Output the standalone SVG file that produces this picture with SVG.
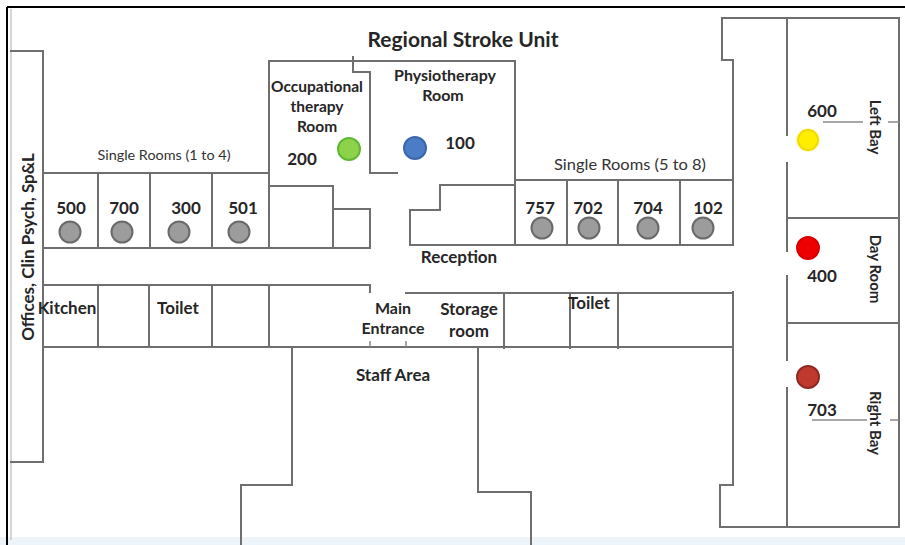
<svg xmlns="http://www.w3.org/2000/svg" width="905" height="545" viewBox="0 0 905 545">
<style>
.w{fill:none;stroke:#6f6f6f;stroke-width:2;stroke-linecap:square}
.f{fill:none;stroke:#000;stroke-width:2}
.t{font-family:Lato,"Liberation Sans",sans-serif;font-weight:700;font-size:17px;fill:#262626;text-anchor:middle}
.s{font-family:Lato,"Liberation Sans",sans-serif;font-weight:400;font-size:14px;fill:#333;text-anchor:middle}
.g{fill:#9c9c9c;stroke:#6a6a6a;stroke-width:2}
</style>
<rect x="0" y="0" width="905" height="545" fill="#fff"/>
<rect x="0" y="537" width="905" height="8" fill="#eef5fa"/>
<g id="frame">
<line class="f" x1="7" y1="7" x2="905" y2="7"/>
<line class="f" x1="7" y1="7" x2="7" y2="545"/>
<line x1="11" y1="9" x2="11" y2="540" stroke="#c9c9c9" stroke-width="1.5"/>
</g>
<g id="walls">
<path class="w" d="M11,51 H43 V462 H11"/>
<path class="w" d="M43,173 H269 M43,248 H370 M98,173 V248 M150,173 V248 M212,173 V248"/>
<path class="w" d="M269,186 H333 V248 M333,209 H370 V248"/>
<path class="w" d="M269,248 V61 H515 V245"/>
<path class="w" d="M353,57 V72 H370 V173 H397"/>
<path class="w" d="M410,245 V210 H440 V185 H515"/>
<path class="w" d="M410,245 H733"/>
<path class="w" d="M515,180 H733 M567,180 V245 M618,180 V245 M680,180 V245"/>
<path class="w" d="M722,18 V60 H733 V245"/>
<path class="w" d="M722,18 H899 V527 H720 V485 H733 V292"/>
<path class="w" d="M787,18 V135 M787,163 V251 M787,276 V360 M787,388 V527"/>
<path class="w" d="M787,218 H899 M787,323 H899"/>
<path d="M823,122 H863 M888,122 H899 M812,420 H867 M890,420 H899" fill="none" stroke="#8a8a8a" stroke-width="1.5"/>
<path class="w" d="M43,347 V285 H370 V292 M406,293 H733 M43,347 H733"/>
<path class="w" d="M98,285 V347 M149,285 V347 M212,285 V347 M269,285 V347 M504,293 V348 M570,293 V348 M618,293 V348"/>
<path d="M370,341 V347 M406,341 V347" fill="none" stroke="#8a8a8a" stroke-width="1.5"/>
<path class="w" d="M292,347 V485 H241 V545"/>
<path class="w" d="M478,348 V492 H531 V545"/>
</g>
<g id="labels">
<text class="t" x="463" y="47" style="font-size:21px">Regional Stroke Unit</text>
<text class="t" transform="translate(34,247) rotate(-90)">Offices, Clin Psych, Sp&amp;L</text>
<text class="s" x="164" y="160" textLength="133" lengthAdjust="spacingAndGlyphs">Single Rooms (1 to 4)</text>
<text class="s" x="630" y="170" textLength="152" lengthAdjust="spacingAndGlyphs" style="font-size:15px">Single Rooms (5 to 8)</text>
<text class="t" x="317" y="92" style="font-size:15.5px">Occupational</text>
<text class="t" x="317" y="112" style="font-size:15.5px">therapy</text>
<text class="t" x="317" y="132" style="font-size:15.5px">Room</text>
<text class="t" x="445" y="81" style="font-size:16px">Physiotherapy</text>
<text class="t" x="443" y="101" style="font-size:16px">Room</text>
<text class="t" x="302" y="165">200</text>
<text class="t" x="460" y="149">100</text>
<text class="t" x="71" y="214">500</text>
<text class="t" x="124" y="214">700</text>
<text class="t" x="186" y="214">300</text>
<text class="t" x="243" y="214">501</text>
<text class="t" x="540" y="214">757</text>
<text class="t" x="588" y="214">702</text>
<text class="t" x="648" y="214">704</text>
<text class="t" x="708" y="214">102</text>
<text class="t" x="459" y="263">Reception</text>
<text class="t" x="67" y="314">Kitchen</text>
<text class="t" x="178" y="314">Toilet</text>
<text class="t" x="393" y="314" style="font-size:16px">Main</text>
<text class="t" x="393" y="334" style="font-size:16px">Entrance</text>
<text class="t" x="469" y="315">Storage</text>
<text class="t" x="469" y="337">room</text>
<text class="t" x="589" y="309">Toilet</text>
<text class="t" x="393" y="381">Staff Area</text>
<text class="t" x="822" y="117">600</text>
<text class="t" x="822" y="282">400</text>
<text class="t" x="822" y="416">703</text>
<text class="t" transform="translate(870,127) rotate(90)" style="font-size:15px">Left Bay</text>
<text class="t" transform="translate(870,269) rotate(90)" style="font-size:15px">Day Room</text>
<text class="t" transform="translate(870,423) rotate(90)" style="font-size:15px">Right Bay</text>
</g>
<g id="markers">
<circle class="g" cx="70" cy="232" r="10.5"/>
<circle class="g" cx="122" cy="232" r="10.5"/>
<circle class="g" cx="179" cy="232" r="10.5"/>
<circle class="g" cx="239" cy="232" r="10.5"/>
<circle class="g" cx="542" cy="228" r="10.5"/>
<circle class="g" cx="589" cy="228" r="10.5"/>
<circle class="g" cx="648" cy="228" r="10.5"/>
<circle class="g" cx="703" cy="228" r="10.5"/>
<circle cx="349" cy="149" r="11" fill="#8cd24a" stroke="#5fb832" stroke-width="2"/>
<circle cx="415" cy="148" r="11" fill="#4b7cc6" stroke="#3b68ad" stroke-width="2"/>
<circle cx="808" cy="140" r="12" fill="#fff7a0" opacity="0.6"/>
<circle cx="808" cy="140" r="10" fill="#ffee00" stroke="#f2dc00" stroke-width="2"/>
<circle cx="808" cy="248" r="11" fill="#ee0000" stroke="#d40000" stroke-width="2"/>
<circle cx="808" cy="377" r="11" fill="#c0392f" stroke="#8e2a24" stroke-width="2"/>
</g>
</svg>
